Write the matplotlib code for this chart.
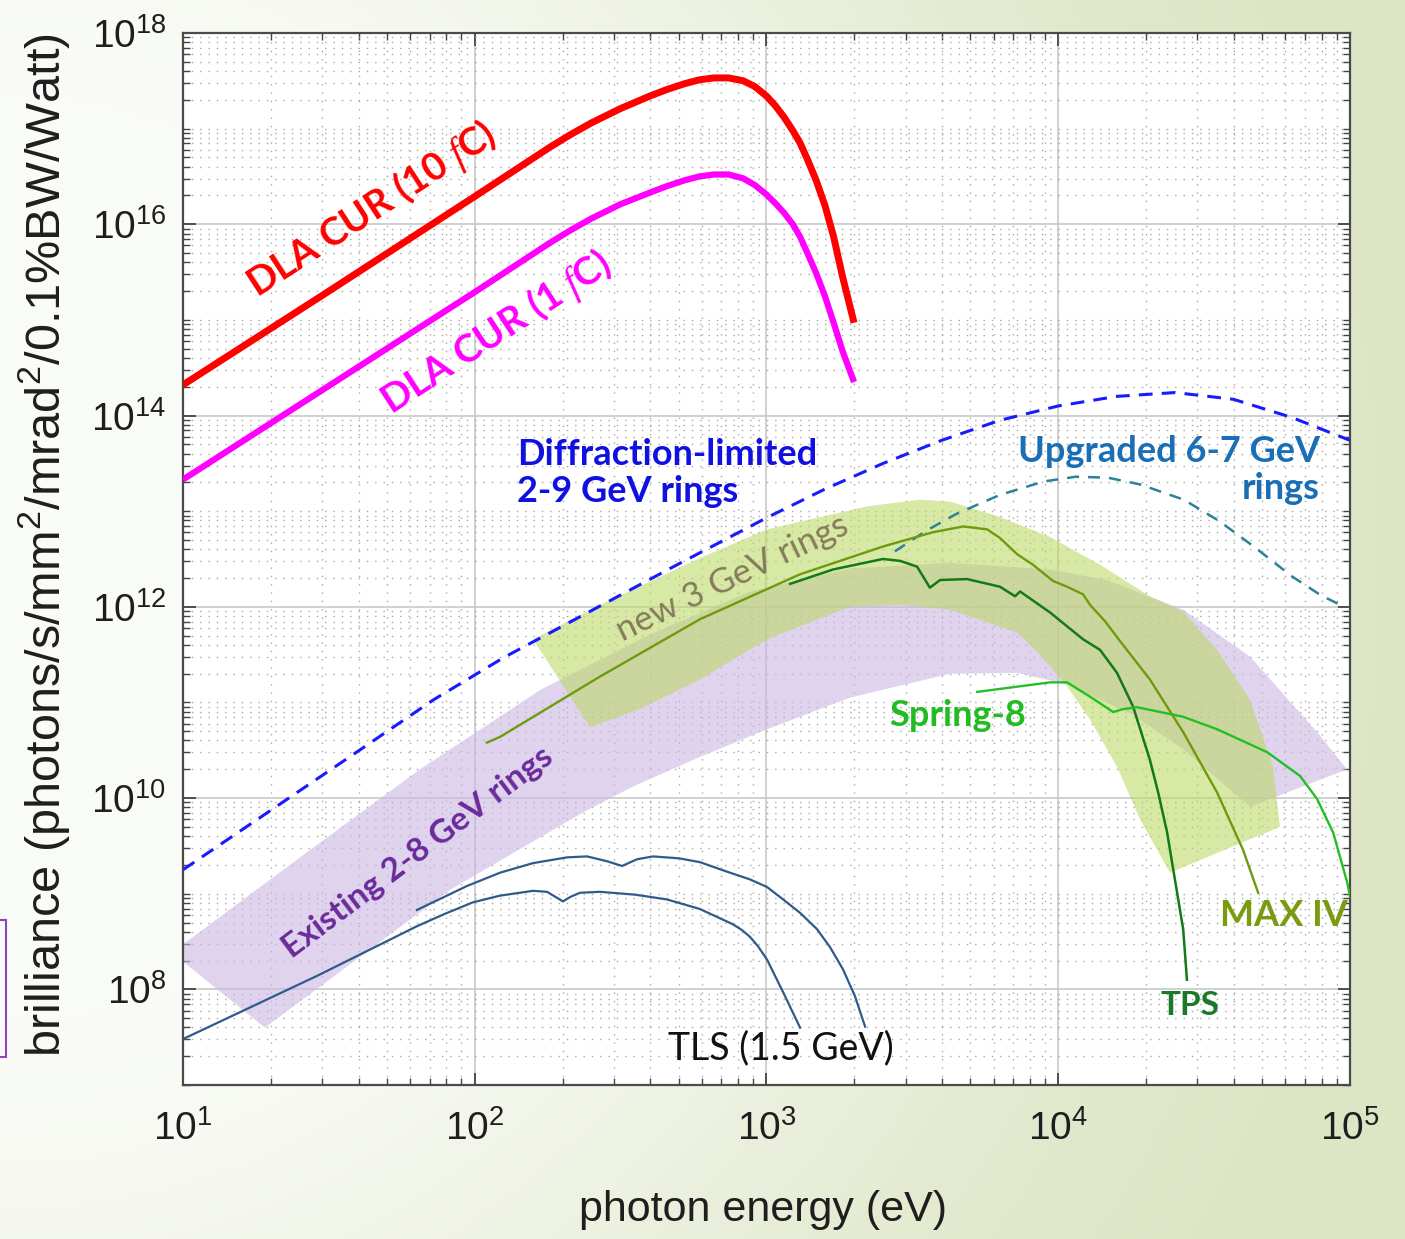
import numpy as np
import matplotlib
matplotlib.use("Agg")
import matplotlib.pyplot as plt
from matplotlib.patches import Polygon, Rectangle
from matplotlib.ticker import LogLocator, NullFormatter

plt.rcParams['font.family'] = ['Liberation Sans', 'DejaVu Sans']
plt.rcParams['mathtext.fontset'] = 'custom'
plt.rcParams['mathtext.rm'] = 'Liberation Sans'
plt.rcParams['mathtext.it'] = 'Liberation Serif:italic'
plt.rcParams['mathtext.bf'] = 'Liberation Sans:bold'
plt.rcParams['mathtext.default'] = 'regular'

# everything as log10(photon energy / eV) and log10(brilliance)
xtick_exps = [1, 2, 3, 4, 5]
ytick_exps = [8, 10, 12, 14, 16, 18]

# DLA CUR 10 fC (red) and 1 fC (magenta)
dla_logE = [1.00, 1.50, 2.00, 2.26, 2.33, 2.40, 2.50, 2.60, 2.66, 2.72, 2.77, 2.82, 2.87, 2.92, 2.96, 3.00,
            3.03, 3.06, 3.09, 3.115, 3.14, 3.17, 3.20, 3.23, 3.26, 3.30]
dla10_logB = [14.32, 15.30, 16.29, 16.81, 16.94, 17.06, 17.21, 17.34, 17.41, 17.47, 17.51, 17.53, 17.53, 17.50, 17.44, 17.34,
              17.24, 17.12, 16.98, 16.85, 16.68, 16.46, 16.20, 15.87, 15.46, 14.97]
dla1_logB = [13.33, 14.31, 15.29, 15.81, 15.94, 16.06, 16.21, 16.33, 16.40, 16.46, 16.50, 16.52, 16.52, 16.48, 16.41, 16.31,
             16.22, 16.12, 16.00, 15.87, 15.70, 15.49, 15.25, 14.97, 14.68, 14.35]

# diffraction-limited 2-9 GeV rings (blue dashed)
dlr_logE = [1.00, 1.30, 1.60, 1.86, 2.10, 2.40, 2.70, 3.00, 3.20, 3.40, 3.60, 3.80, 4.00, 4.20, 4.40, 4.60, 4.80, 5.00]
dlr_logB = [9.25, 9.87, 10.49, 11.03, 11.47, 11.96, 12.45, 12.93, 13.23, 13.50, 13.74, 13.95, 14.10, 14.20, 14.24, 14.17, 13.98, 13.74]

# upgraded 6-7 GeV rings (teal dashed)
upg_logE = [3.44, 3.55, 3.65, 3.80, 3.95, 4.06, 4.17, 4.28, 4.43, 4.55, 4.67, 4.80, 4.90, 4.98]
upg_logB = [12.58, 12.80, 12.97, 13.17, 13.31, 13.36, 13.35, 13.28, 13.12, 12.90, 12.63, 12.32, 12.12, 12.00]

# TLS (1.5 GeV), two undulator curves
tls_a_logE = [1.000, 1.459, 1.802, 1.898, 1.994, 2.087, 2.200, 2.248, 2.275, 2.302, 2.330, 2.361, 2.429, 2.550,
              2.659, 2.772, 2.885, 2.916, 2.943, 2.971, 3.002, 3.057, 3.115]
tls_a_logB = [7.48, 8.14, 8.66, 8.79, 8.91, 8.98, 9.03, 9.02, 8.97, 8.92, 8.97, 9.01, 9.02, 8.99,
              8.94, 8.84, 8.68, 8.62, 8.55, 8.45, 8.31, 7.97, 7.60]
tls_b_logE = [1.802, 1.973, 2.087, 2.200, 2.316, 2.385, 2.453, 2.505, 2.556, 2.611, 2.700, 2.772, 2.865, 2.943,
              3.002, 3.057, 3.115, 3.173, 3.218, 3.262, 3.303, 3.338]
tls_b_logB = [8.83, 9.08, 9.22, 9.32, 9.38, 9.39, 9.34, 9.29, 9.36, 9.39, 9.37, 9.33, 9.23, 9.15,
              9.07, 8.94, 8.80, 8.63, 8.44, 8.21, 7.93, 7.61]

# MAX IV
maxiv_logE = [2.042, 2.087, 2.429, 2.772, 3.115, 3.399, 3.571, 3.674, 3.756, 3.800, 3.859, 3.913, 3.982, 4.030,
              4.085, 4.109, 4.160, 4.212, 4.314, 4.428, 4.544, 4.633, 4.685]
maxiv_logB = [10.58, 10.64, 11.27, 11.87, 12.34, 12.63, 12.78, 12.84, 12.81, 12.72, 12.55, 12.44, 12.27, 12.21,
              12.13, 12.02, 11.85, 11.64, 11.24, 10.69, 10.06, 9.46, 9.01]

# TPS
tps_logE = [3.081, 3.228, 3.399, 3.458, 3.516, 3.560, 3.595, 3.687, 3.800, 3.852, 3.869, 3.972, 4.085, 4.143,
            4.201, 4.256, 4.314, 4.343, 4.373, 4.410, 4.428, 4.441]
tps_logB = [12.24, 12.39, 12.50, 12.48, 12.42, 12.20, 12.28, 12.29, 12.21, 12.11, 12.16, 11.94, 11.66, 11.55,
            11.31, 10.96, 10.40, 10.05, 9.64, 8.96, 8.63, 8.10]

# Spring-8
spring8_logE = [3.722, 3.972, 4.030, 4.109, 4.188, 4.222, 4.270, 4.428, 4.544, 4.716, 4.829, 4.887, 4.942, 4.990, 5.000]
spring8_logB = [11.11, 11.21, 11.21, 11.06, 10.90, 10.93, 10.95, 10.85, 10.72, 10.48, 10.23, 9.99, 9.64, 9.12, 8.97]

# shaded bands, outline walked round
green_logE = [2.200, 2.429, 2.542, 2.772, 3.002, 3.115, 3.344, 3.526, 3.629, 3.800, 3.972, 4.143, 4.314, 4.428, 4.544, 4.657, 4.736, 4.760,
              4.383, 4.280, 4.201, 4.109, 4.030, 3.937, 3.859, 3.629, 3.458, 3.286, 3.002, 2.772, 2.566, 2.395]
green_logB = [11.66, 12.02, 12.18, 12.51, 12.81, 12.89, 13.05, 13.12, 13.10, 12.94, 12.73, 12.44, 12.11, 11.95, 11.55, 11.03, 10.33, 9.70,
              9.22, 9.78, 10.33, 10.82, 11.17, 11.50, 11.73, 11.97, 12.02, 12.00, 11.66, 11.24, 10.93, 10.74]
purple_logE = [1.000, 1.401, 1.812, 2.224, 2.601, 2.943, 3.286, 3.629, 3.972, 4.167, 4.428, 4.657, 4.887, 4.990,
               4.657, 4.428, 4.256, 4.030, 3.859, 3.629, 3.286, 3.002, 2.772, 2.542, 2.371, 1.915, 1.572, 1.281, 1.000]
purple_logB = [8.47, 9.38, 10.30, 11.13, 11.71, 12.16, 12.40, 12.46, 12.39, 12.28, 11.97, 11.48, 10.69, 10.30,
               9.91, 10.51, 10.87, 11.19, 11.31, 11.30, 11.05, 10.72, 10.43, 10.12, 9.85, 9.04, 8.26, 7.60, 8.29]


def lin(a):
    return 10.0 ** np.array(a)


fig = plt.figure(figsize=(14.05, 12.39), dpi=100)

# slide background: whitish on the left fading to pale green on the right
u, v = np.meshgrid(np.linspace(0, 1, 400), np.linspace(0, 1, 400))
r = np.sqrt(u ** 2 + ((v - 0.45) / 1.1) ** 2)
t = np.clip((r - 0.3) / 0.75, 0, 1)
t = t * t * (3 - 2 * t)
c0 = np.array([0.98, 0.985, 0.97])
c1 = np.array([0.865, 0.900, 0.770])
bg = fig.add_axes([0, 0, 1, 1], zorder=-5)
bg.imshow(c0 + (c1 - c0) * t[..., None], extent=[0, 1, 0, 1], aspect='auto', origin='upper')
bg.axis('off')

fig.add_artist(Rectangle((-0.004, 0.147), 0.0085, 0.1105, transform=fig.transFigure,
                         fill=False, ec='#8a46c0', lw=1.5))

ax = fig.add_axes([0.1302, 0.1243, 0.8307, 0.8491])
ax.set_facecolor('white')
ax.set_xscale('log')
ax.set_yscale('log')
ax.set_xlim(10, 1e5)
ax.set_ylim(1e7, 1e18)

ax.add_patch(Polygon(np.column_stack([lin(purple_logE), lin(purple_logB)]), closed=True,
                     fc='#cbb7e3', ec='none', alpha=0.6, zorder=1))
ax.add_patch(Polygon(np.column_stack([lin(green_logE), lin(green_logB)]), closed=True,
                     fc='#bed969', ec='none', alpha=0.6, zorder=1.1))

ax.plot(lin(dlr_logE), lin(dlr_logB), color='#1a1aff', lw=2.2, ls=(0, (4.5, 3)), zorder=3)
ax.plot(lin(upg_logE), lin(upg_logB), color='#2c8296', lw=1.8, ls=(0, (4.8, 3.6)), zorder=3)
ax.plot(lin(tls_a_logE), lin(tls_a_logB), color='#2f5b8a', lw=1.6, zorder=3)
ax.plot(lin(tls_b_logE), lin(tls_b_logB), color='#2f5b8a', lw=1.6, zorder=3)
ax.plot(lin(maxiv_logE), lin(maxiv_logB), color='#6e9b0c', lw=1.7, zorder=3)
ax.plot(lin(tps_logE), lin(tps_logB), color='#137a17', lw=1.8, zorder=3)
ax.plot(lin(spring8_logE), lin(spring8_logB), color='#22c022', lw=1.7, zorder=3)
ax.plot(lin(dla_logE), lin(dla10_logB), color='#ff0000', lw=5, solid_capstyle='butt',
        solid_joinstyle='round', zorder=4)
ax.plot(lin(dla_logE), lin(dla1_logB), color='#ff00ff', lw=4.5, solid_capstyle='butt',
        solid_joinstyle='round', zorder=4)

ax.set_xticks(lin(xtick_exps))
ax.set_xticklabels([r'$10^{%d}$' % e for e in xtick_exps])
ax.set_yticks(lin(ytick_exps))
ax.set_yticklabels([r'$10^{%d}$' % e for e in ytick_exps])
ax.xaxis.set_minor_locator(LogLocator(base=10, subs=np.arange(2, 10), numticks=50))
ax.yaxis.set_minor_locator(LogLocator(base=10, subs=np.arange(1, 10), numticks=50))
ax.xaxis.set_minor_formatter(NullFormatter())
ax.yaxis.set_minor_formatter(NullFormatter())
ax.tick_params(which='both', direction='in', top=True, right=True, color='#444444')
ax.tick_params(which='major', length=9, width=1.3, labelsize=28, labelcolor='#1e1e1e')
ax.tick_params(which='minor', length=5, width=1.0)
ax.tick_params(axis='x', which='major', pad=18)
ax.tick_params(axis='y', which='major', pad=12)

ax.set_axisbelow(True)
ax.grid(True, which='major', color='#c8c8c8', lw=1.2)
ax.grid(True, which='minor', color='#a8a8a8', lw=1.0, ls=(0, (1, 5)))
for s in ax.spines.values():
    s.set_linewidth(1.6)
    s.set_color('#4a4a4a')

ax.set_xlabel('photon energy (eV)', fontsize=31, color='#1e1e1e')
ax.xaxis.set_label_coords(0.497, -0.0998)
ax.set_ylabel('brilliance (photons/s/mm$^2$/mrad$^2$/0.1%BW/Watt)', fontsize=35, color='#1e1e1e')
ax.yaxis.set_label_coords(-0.095, 0.513)

tk = dict(transform=ax.transAxes, ha='center', va='center', rotation_mode='anchor', zorder=6)
ax.text(0.162, 0.832, r'DLA CUR (10 $\mathit{f}$C)', color='#ff0000', fontsize=28,
        family='Lato', weight='bold', rotation=33, **tk)
ax.text(0.269, 0.715, r'DLA CUR (1 $\mathit{f}$C)', color='#ff00ff', fontsize=28,
        family='Lato', weight='bold', rotation=33, **tk)
ax.text(0.286, 0.582, 'Diffraction-limited\n2-9 GeV rings', color='#1010e0', fontsize=26,
        family='Lato', weight='bold', ha='left', va='center', linespacing=1.15,
        transform=ax.transAxes, zorder=6)
ax.text(0.974, 0.585, 'Upgraded 6-7 GeV\nrings', color='#1a6eb5', fontsize=26,
        family='Lato', weight='bold', ha='right', va='center', multialignment='right',
        linespacing=1.15, transform=ax.transAxes, zorder=6)
ax.text(0.471, 0.482, 'new 3 GeV rings', color='#857b5a', fontsize=25,
        family='Lato', rotation=25.5, **tk)
ax.text(0.201, 0.221, 'Existing 2-8 GeV rings', color='#6b2a9a', fontsize=24,
        family='Lato', weight='bold', rotation=37, **tk)
ax.text(0.664, 0.351, 'Spring-8', color='#22bb22', fontsize=26, family='Lato', weight='bold', **tk)
ax.text(0.943, 0.161, 'MAX IV', color='#7a9a10', fontsize=26, family='Lato', weight='bold', **tk)
ax.text(0.863, 0.076, 'TPS', color='#1a7a2a', fontsize=24, family='Lato', weight='bold', **tk)
ax.text(0.512, 0.035, 'TLS (1.5 GeV)', color='#111111', fontsize=27, family='Lato', **tk)

fig.savefig('out.png', dpi=100)
